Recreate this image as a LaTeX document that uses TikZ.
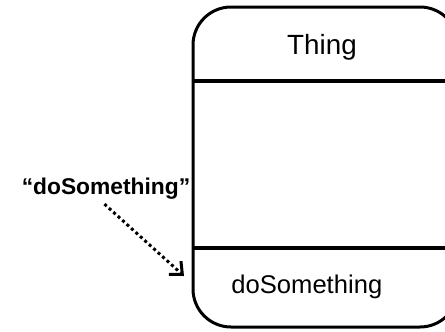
\documentclass[tikz,border=0pt]{standalone}
\usepackage{fontspec}
\setmainfont{Liberation Sans}
\usetikzlibrary{arrows.meta}

\begin{document}
\begin{tikzpicture}[x=0.5pt, y=-0.5pt, every node/.style={inner sep=0pt}]
\useasboundingbox (0,0) rectangle (445,332);
\clip (0,0) rectangle (445,332);
\node[draw, line width=1.5pt, rounded corners=19pt, minimum width=132.5pt, minimum height=160pt] (Box) at (325.5,167) {};
\coordinate (BoxL1) at (193,81);
\coordinate (BoxR1) at (458,81);
\coordinate (BoxL2) at (193,248);
\coordinate (BoxR2) at (458,248);
\draw[line width=1.8pt] (BoxL1) -- (BoxR1);
\draw[line width=1.8pt] (BoxL2) -- (BoxR2);
\node[font=\fontsize{13.9pt}{15pt}\selectfont] (BoxTitle) at (322,47) {Thing};
\node[font=\fontsize{12.8pt}{15pt}\selectfont, anchor=west] (BoxOp) at (231,287) {doSomething};
\node[font=\fontsize{11.4pt}{14pt}\selectfont\bfseries] (Lbl) at (106,189) {“doSomething”};
\coordinate (LblTip) at (184,276);
\draw[line width=1.5pt, dash pattern=on 1.5pt off 1.5pt, shorten <=3pt, -{Straight Barb[length=5pt, width=9pt]}] ([xshift=-3pt]Lbl.south) -- (LblTip);
\end{tikzpicture}
\end{document}
